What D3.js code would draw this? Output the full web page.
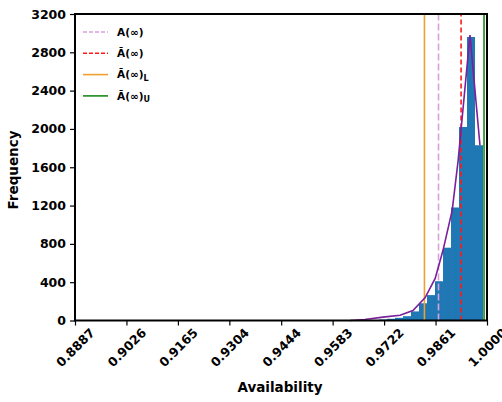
<!DOCTYPE html>
<meta charset="utf-8">
<body style="margin:0;background:#fff">
<script src="https://cdn.jsdelivr.net/npm/d3@7"></script>
<script>

    // histogram bins (left edges + last right edge) and counts
    var binEdges = [0.96866, 0.97083, 0.97299, 0.97515, 0.97731, 0.97947, 0.98163,
                    0.98379, 0.98595, 0.98812, 0.99028, 0.99244, 0.99460, 0.99676, 0.99892];
    var counts = [4, 10, 18, 28, 45, 95, 180, 265, 410, 760, 1180, 2020, 2960, 1830];

    // purple frequency curve
    var curveX = [0.9630, 0.9670, 0.9719, 0.9765, 0.9800, 0.9833, 0.9860, 0.9881,
                  0.9906, 0.9922, 0.9954, 0.9981];
    var curveY = [0, 10, 35, 55, 105, 240, 440, 730, 1150, 1670, 2980, 1830];

    // vertical reference lines
    var refNames = ["A(∞)", "Ā(∞)", "Ā(∞)L", "Ā(∞)U"];
    var refValues = [0.9869, 0.9930, 0.9831, 0.9992];
    var refColors = ["#d9a0dc", "#ff1a1a", "#f0a030", "#1a8a1a"];
    var refDash = ["7,3", "5,3", null, null];

    var xTicks = [0.8887, 0.9026, 0.9165, 0.9304, 0.9444, 0.9583, 0.9722, 0.9861, 1.0000];
    var yTicks = [0, 400, 800, 1200, 1600, 2000, 2400, 2800, 3200];

    var W = 502, H = 402,
        margin = {left: 75, top: 14, right: 15, bottom: 81.5};

    var x = d3.scaleLinear().domain([0.8887, 1.0]).range([margin.left, W - margin.right]);
    var y = d3.scaleLinear().domain([0, 3200]).range([H - margin.bottom, margin.top]);

    var svg = d3.select("body").append("svg")
        .attr("width", W)
        .attr("height", H)
        .style("font-family", "DejaVu Sans")
        .style("font-weight", "bold");

    // bars
    svg.append("g").selectAll("rect")
        .data(counts)
        .enter().append("rect")
        .attr("x", function(d, i) { return x(binEdges[i]); })
        .attr("width", function(d, i) { return x(binEdges[i + 1]) - x(binEdges[i]); })
        .attr("y", function(d) { return y(d); })
        .attr("height", function(d) { return y(0) - y(d); })
        .attr("fill", "#1f77b4");

    // reference lines
    svg.append("g").selectAll("line")
        .data(refValues)
        .enter().append("line")
        .attr("x1", function(d) { return x(d); })
        .attr("x2", function(d) { return x(d); })
        .attr("y1", y(0))
        .attr("y2", y(3200))
        .attr("stroke", function(d, i) { return refColors[i]; })
        .attr("stroke-width", 1.6)
        .attr("stroke-dasharray", function(d, i) { return refDash[i]; });

    // curve
    var line = d3.line()
        .x(function(d, i) { return x(curveX[i]); })
        .y(function(d) { return y(d); });

    svg.append("path")
        .datum(curveY)
        .attr("d", line)
        .attr("fill", "none")
        .attr("stroke", "#7b1f9a")
        .attr("stroke-width", 1.6);

    // axes
    var yAxis = svg.append("g")
        .attr("transform", "translate(" + margin.left + ",0)")
        .call(d3.axisLeft(y).tickValues(yTicks).tickSize(5).tickPadding(4).tickFormat(d3.format("d")));
    yAxis.select(".domain").remove();
    yAxis.selectAll("text").style("font-size", "12.5px").style("font-family", "DejaVu Sans").style("font-weight", "bold");
    yAxis.selectAll("line").attr("stroke-width", 1.2);

    var xAxis = svg.append("g")
        .attr("transform", "translate(0," + y(0) + ")")
        .call(d3.axisBottom(x).tickValues(xTicks).tickSize(5).tickFormat(d3.format(".4f")));
    xAxis.select(".domain").remove();
    xAxis.selectAll("line").attr("stroke-width", 1.2);
    xAxis.selectAll("text")
        .style("font-size", "12.5px")
        .style("font-family", "DejaVu Sans")
        .style("font-weight", "bold")
        .attr("text-anchor", "middle")
        .attr("dy", "0.35em")
        .attr("y", 27)
        .attr("transform", "rotate(-45 0 27)");

    // frame
    svg.append("rect")
        .attr("x", margin.left)
        .attr("y", margin.top)
        .attr("width", W - margin.left - margin.right)
        .attr("height", H - margin.top - margin.bottom)
        .attr("fill", "none")
        .attr("stroke", "#000")
        .attr("stroke-width", 2);

    // axis labels
    svg.append("text")
        .attr("x", 280)
        .attr("y", 392)
        .attr("text-anchor", "middle")
        .style("font-size", "13.5px")
        .text("Availability");

    svg.append("text")
        .attr("transform", "translate(18,170) rotate(-90)")
        .attr("text-anchor", "middle")
        .style("font-size", "13.5px")
        .text("Frequency");

    // legend
    var order = [0, 1, 2, 3];
    var leg = svg.append("g").selectAll("g")
        .data(order)
        .enter().append("g")
        .attr("transform", function(d, i) { return "translate(83," + (32 + i * 21.3) + ")"; });

    leg.append("line")
        .attr("x1", 0).attr("x2", 25)
        .attr("stroke", function(d) { return refColors[d]; })
        .attr("stroke-width", 1.6)
        .attr("stroke-dasharray", function(d) { return refDash[d] ? "4,2" : null; });

    var lt = leg.append("text")
        .attr("x", 34)
        .attr("dy", "0.35em")
        .style("font-size", "10.5px");
    lt.append("tspan").text(function(d) { return refNames[d].slice(0, 4); });
    lt.append("tspan")
        .attr("dy", "0.3em")
        .style("font-size", "8px")
        .text(function(d) { return refNames[d].slice(4); });

</script>
